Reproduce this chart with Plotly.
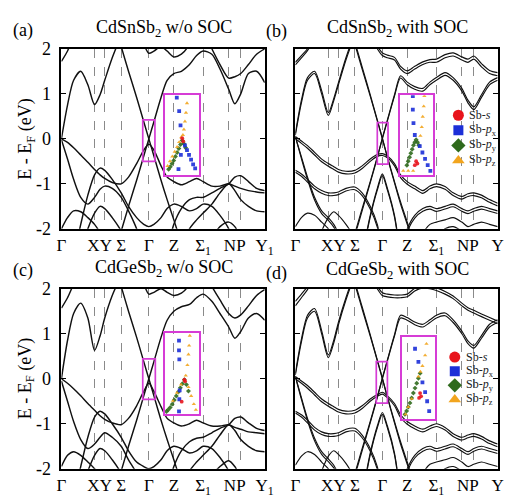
import plotly.graph_objects as go

N = None
W, H = 513, 498
SERIF = "Times New Roman, Liberation Serif, serif"
MAGENTA = "#d63cd6"

# k-path sampling (fraction of the path length)
K = [0.0, 0.03, 0.06, 0.095, 0.13, 0.163, 0.19, 0.213, 0.25, 0.294,
     0.33, 0.37, 0.405, 0.43, 0.455, 0.49, 0.52, 0.553, 0.59, 0.63,
     0.665, 0.697, 0.74, 0.78, 0.823, 0.853, 0.882, 0.92, 0.96, 1.0]

# high-symmetry points (dashed separators) and the labels printed under them
K_NODES = [0.0, 0.163, 0.213, 0.294, 0.43, 0.553, 0.697, 0.823, 0.882, 1.0]
LABEL_POS = [0.0, 0.188, 0.294, 0.43, 0.553, 0.697, 0.8525, 1.0]
LABELS_NOSOC = ["Γ", "XY", "Σ", "Γ", "Z", "Σ<sub>1</sub>", "NP", "Y<sub>1</sub>"]
LABELS_SOC = ["Γ", "XY", "Σ", "Γ", "Z", "Σ<sub>1</sub>", "NP", "Y"]
Y_TICKS = [-2, -1, 0, 1, 2]
Y_TICKTEXT = ["-2", "-1", "0", "1", "2"]

# ---- band energies (eV) on the K grid ----
BANDS_A = [
    [0.0, 0.75, 1.3, 1.5, 1.2, 0.76, 0.98, 1.3, 1.8, 2.3, 2.7] + [N] * 19,
    [1.72, 1.95, 2.3, 2.7] + [N] * 26,
    [N] * 8 + [2.7, 2.05, 1.5, 0.92, 0.38, 0.0, -0.38, -0.92, -1.35, -1.8, -2.3, -2.7] + [N] * 10,
    [N] * 8 + [-2.7, -2.05, -1.5, -0.92, -0.38, 0.0, 0.38, 0.92, 1.3, 1.45, 1.5, 1.65, 1.85, 1.95,
               1.88, 1.55, 1.1, 0.78, 1.0, 1.45, 1.5, 1.25],
    [N] * 10 + [2.7, 2.4, 2.1, 1.9, 1.95, 2.05, 1.95, 1.82, 1.88, 2.1, 2.5] + [N] * 9,
    [N] * 20 + [2.7, 2.4, 2.0, 1.65, 1.35, 1.38, 1.45, 1.65, 1.88, 2.0],
    [0.0, -0.08, -0.2, -0.36, -0.52, -0.68, -0.8, -0.88, -0.97, -1.0, -0.85, -0.55, -0.25, -0.12,
     -0.25, -0.6, -0.85, -0.95, -1.02, -0.95, -0.88, -0.95, -1.05, -1.05, -1.0, -1.05, -1.1, -1.15,
     -1.18, -1.2],
    [-0.02, -0.45, -0.9, -1.3, -1.45, -1.3, -1.12, -1.05, -1.1, -1.3, -1.6, -2.0, -2.5] + [N] * 17,
    [N] * 2 + [-2.6, -1.9, -1.25, -0.8, -0.65, -0.7, -0.9, -1.2, -1.5, -1.75, -1.9, -1.95, -1.9,
               -1.75, -1.55, -1.45, -1.5, -1.6, -1.55, -1.45, -1.5, -1.7, -2.0, -2.4] + [N] * 4,
    [-2.0, -1.75, -1.6, -1.62, -1.75, -1.9, -2.1, -2.5] + [N] * 22,
    [N] * 3 + [-2.5, -2.0, -1.65, -1.5, -1.55, -1.75, -2.05, -2.5] + [N] * 19,
    [N] * 16 + [-2.5, -1.9, -1.55, -1.35, -1.3, -1.3, -1.2, -1.1, -1.0, -0.85, -0.82, -0.95, -1.1, -1.15],
    [N] * 18 + [-2.5, -2.0, -1.8, -1.65, -1.45, -1.2, -1.0, -1.15, -1.35, -1.5, -1.6, -1.62],
    [N] * 21 + [-2.5, -2.2, -1.95, -1.85, -1.95, -2.2, -2.5] + [N] * 2,
]

BANDS_B = [
    [0.08, 0.8, 1.3, 1.45, 1.0, 0.52, 0.85, 1.2, 1.75, 2.3, 2.7] + [N] * 19,
    [0.12, 0.86, 1.36, 1.5, 1.07, 0.58, 0.9, 1.25, 1.8, 2.35, 2.7] + [N] * 19,
    [1.7, 1.85, 2.0, 2.3, 2.7] + [N] * 25,
    [1.64, 1.8, 1.96, 2.25, 2.7] + [N] * 25,
    [N] * 8 + [2.7, 2.1, 1.55, 0.95, 0.4, 0.0, -0.4, -0.95, -1.4, -1.85, -2.35, -2.7] + [N] * 10,
    [N] * 8 + [2.75, 2.15, 1.6, 0.98, 0.42, 0.02, -0.42, -0.98, -1.45, -1.9, -2.4, -2.75] + [N] * 10,
    [N] * 8 + [-2.7, -2.1, -1.55, -0.95, -0.4, 0.0, 0.4, 0.95, 1.35, 1.2, 1.1, 1.06, 1.2, 1.3,
               1.41, 1.3, 1.06, 0.8, 0.65, 0.92, 1.2, 1.3],
    [N] * 8 + [-2.75, -2.15, -1.6, -0.98, -0.42, 0.02, 0.42, 0.98, 1.4, 1.26, 1.16, 1.12, 1.26, 1.36,
               1.47, 1.36, 1.12, 0.86, 0.71, 0.98, 1.26, 1.36],
    [N] * 10 + [2.7, 2.3, 2.0, 1.85, 1.8, 1.75, 1.55, 1.45, 1.55, 1.65, 1.7, 1.7, 1.8, 1.84, 1.75,
                1.7, 1.77, 1.6, 1.45, 1.4],
    [N] * 10 + [2.75, 2.36, 2.06, 1.91, 1.86, 1.81, 1.61, 1.51, 1.61, 1.71, 1.76, 1.77, 1.87, 1.91,
                1.82, 1.77, 1.84, 1.67, 1.52, 1.47],
    [0.05, -0.05, -0.15, -0.3, -0.45, -0.55, -0.62, -0.68, -0.72, -0.7, -0.6, -0.45, -0.35, -0.33,
     -0.38, -0.55, -0.8, -0.95, -1.05, -1.15, -1.05, -1.0, -1.06, -1.2, -1.28, -1.22, -1.2, -1.25,
     -1.35, -1.43],
    [0.0, -0.1, -0.21, -0.36, -0.51, -0.61, -0.68, -0.74, -0.78, -0.76, -0.66, -0.5, -0.39, -0.37,
     -0.42, -0.6, -0.86, -1.01, -1.11, -1.21, -1.11, -1.06, -1.12, -1.26, -1.34, -1.28, -1.26,
     -1.31, -1.41, -1.49],
    [N] * 10 + [-2.6, -1.7, -1.1, -0.78, -1.1, -1.7, -2.6] + [N] * 13,
    [N] * 10 + [-2.65, -1.74, -1.14, -0.82, -1.14, -1.74, -2.65] + [N] * 13,
    [-0.7, -0.78, -0.9, -1.05, -1.15, -1.2, -1.2, -1.18, -1.1, -1.07, -1.2, -1.5, -1.9, -2.5] + [N] * 16,
    [-0.74, -0.83, -0.96, -1.11, -1.21, -1.26, -1.26, -1.24, -1.16, -1.13, -1.26, -1.56, -1.96,
     -2.56] + [N] * 16,
    [0.05, -0.4, -0.85, -1.3, -1.6, -1.75, -1.9, -2.1, -2.5] + [N] * 21,
    [0.05, -0.44, -0.9, -1.36, -1.66, -1.81, -1.96, -2.16, -2.56] + [N] * 21,
    [-1.95, -1.75, -1.65, -1.7, -1.85, -2.0, -2.2, -2.5] + [N] * 22,
    [N] * 3 + [-2.5, -2.05, -1.75, -1.62, -1.7, -1.9, -2.2, -2.5] + [N] * 19,
    [N] * 16 + [-2.5, -2.0, -1.7, -1.55, -1.5, -1.55, -1.5, -1.45, -1.55, -1.6, -1.55, -1.5, -1.55, -1.6],
    [N] * 16 + [-2.56, -2.06, -1.76, -1.61, -1.56, -1.61, -1.56, -1.51, -1.61, -1.66, -1.61, -1.56,
                -1.61, -1.66],
    [N] * 18 + [-2.5, -2.1, -1.9, -1.85, -1.8, -1.75, -1.85, -1.95, -1.9, -1.85, -1.9, -1.95],
    [N] * 20 + [-2.5, -2.2, -2.0, -1.95, -2.05, -2.15, -2.2, -2.3, -2.5, N],
]

BANDS_C = [
    [0.0, 0.85, 1.45, 1.68, 1.35, 0.63, 0.95, 1.35, 1.85, 2.3, 2.7] + [N] * 19,
    [1.57, 1.8, 2.1, 2.4, 2.7] + [N] * 25,
    [N] * 8 + [2.7, 2.05, 1.5, 0.92, 0.38, 0.0, -0.38, -0.92, -1.35, -1.8, -2.3, -2.7] + [N] * 10,
    [N] * 8 + [-2.7, -2.05, -1.5, -0.92, -0.38, 0.0, 0.38, 0.92, 1.3, 1.5, 1.6, 1.65, 1.8, 1.88,
               1.72, 1.45, 1.15, 0.9, 1.05, 1.35, 1.45, 1.3],
    [N] * 10 + [2.7, 2.4, 2.1, 1.88, 1.92, 2.0, 1.92, 1.85, 1.9, 2.1, 2.5] + [N] * 9,
    [N] * 20 + [2.7, 2.4, 2.05, 1.75, 1.45, 1.35, 1.42, 1.62, 1.85, 1.98],
    [0.0, -0.1, -0.22, -0.38, -0.55, -0.7, -0.82, -0.9, -0.98, -1.02, -0.88, -0.6, -0.28, -0.1,
     -0.28, -0.62, -0.88, -0.98, -1.05, -1.0, -0.92, -0.98, -1.05, -1.05, -1.02, -1.08, -1.12,
     -1.18, -1.2, -1.22],
    [-0.05, -0.5, -0.95, -1.35, -1.55, -1.45, -1.3, -1.2, -1.3, -1.5, -1.8, -2.1, -2.5] + [N] * 17,
    [N] * 2 + [-2.6, -1.95, -1.3, -0.85, -0.72, -0.78, -1.0, -1.3, -1.6, -1.85, -1.95, -2.0, -1.95,
               -1.8, -1.6, -1.5, -1.55, -1.65, -1.6, -1.5, -1.55, -1.75, -2.05, -2.4] + [N] * 4,
    [-1.95, -1.7, -1.62, -1.7, -1.85, -2.0, -2.2, -2.5] + [N] * 22,
    [N] * 3 + [-2.5, -2.05, -1.7, -1.55, -1.6, -1.8, -2.1, -2.5] + [N] * 19,
    [N] * 16 + [-2.5, -1.95, -1.6, -1.4, -1.32, -1.3, -1.2, -1.1, -1.02, -0.88, -0.85, -0.98, -1.1, -1.15],
    [N] * 18 + [-2.5, -2.05, -1.85, -1.7, -1.5, -1.25, -1.02, -1.15, -1.35, -1.5, -1.6, -1.62],
    [N] * 21 + [-2.5, -2.15, -1.95, -1.82, -1.95, -2.2, -2.5] + [N] * 2,
]

BANDS_D = [
    [0.08, 0.82, 1.35, 1.5, 1.0, 0.47, 0.8, 1.2, 1.75, 2.3, 2.7] + [N] * 19,
    [0.12, 0.88, 1.41, 1.56, 1.07, 0.53, 0.86, 1.26, 1.8, 2.35, 2.7] + [N] * 19,
    [1.72, 1.88, 2.05, 2.35, 2.7] + [N] * 25,
    [1.62, 1.8, 1.98, 2.3, 2.7] + [N] * 25,
    [N] * 8 + [2.7, 2.1, 1.55, 0.95, 0.4, 0.0, -0.4, -0.95, -1.4, -1.85, -2.35, -2.7] + [N] * 10,
    [N] * 8 + [2.75, 2.15, 1.6, 0.98, 0.42, 0.02, -0.42, -0.98, -1.45, -1.9, -2.4, -2.75] + [N] * 10,
    [N] * 8 + [-2.7, -2.1, -1.55, -0.95, -0.4, 0.0, 0.4, 0.95, 1.35, 1.3, 1.2, 1.15, 1.25, 1.35,
               1.4, 1.25, 1.0, 0.78, 0.68, 0.9, 1.15, 1.25],
    [N] * 8 + [-2.75, -2.15, -1.6, -0.98, -0.42, 0.02, 0.42, 0.98, 1.41, 1.36, 1.26, 1.21, 1.31, 1.41,
               1.46, 1.31, 1.06, 0.84, 0.74, 0.96, 1.21, 1.31],
    [N] * 10 + [2.7, 2.3, 2.0, 1.85, 1.82, 1.8, 1.8, 1.82, 1.95, 2.02, 2.0, 1.96, 1.88, 1.78, 1.62,
                1.52, 1.46, 1.38, 1.3, 1.22],
    [N] * 10 + [2.75, 2.36, 2.06, 1.91, 1.88, 1.86, 1.86, 1.88, 2.01, 2.08, 2.06, 2.02, 1.94, 1.84,
                1.68, 1.58, 1.52, 1.44, 1.36, 1.28],
    [0.05, -0.05, -0.15, -0.3, -0.45, -0.55, -0.62, -0.68, -0.72, -0.7, -0.6, -0.45, -0.35, -0.3,
     -0.38, -0.55, -0.8, -0.95, -1.05, -1.12, -1.05, -1.0, -1.08, -1.22, -1.3, -1.25, -1.22, -1.28,
     -1.38, -1.45],
    [0.0, -0.1, -0.21, -0.36, -0.51, -0.61, -0.68, -0.74, -0.78, -0.76, -0.66, -0.5, -0.39, -0.34,
     -0.42, -0.6, -0.86, -1.01, -1.11, -1.18, -1.11, -1.06, -1.14, -1.28, -1.36, -1.31, -1.28,
     -1.34, -1.44, -1.51],
    [N] * 10 + [-2.6, -1.65, -1.05, -0.75, -1.05, -1.65, -2.6] + [N] * 13,
    [N] * 10 + [-2.65, -1.69, -1.09, -0.79, -1.09, -1.69, -2.65] + [N] * 13,
    [-0.72, -0.8, -0.92, -1.08, -1.18, -1.22, -1.22, -1.2, -1.12, -1.1, -1.25, -1.55, -1.95, -2.5] + [N] * 16,
    [-0.76, -0.85, -0.98, -1.14, -1.24, -1.28, -1.28, -1.26, -1.18, -1.16, -1.31, -1.61, -2.01,
     -2.56] + [N] * 16,
    [0.05, -0.42, -0.88, -1.32, -1.62, -1.78, -1.92, -2.12, -2.5] + [N] * 21,
    [0.05, -0.46, -0.93, -1.38, -1.68, -1.84, -1.98, -2.18, -2.56] + [N] * 21,
    [-1.92, -1.72, -1.62, -1.68, -1.85, -2.0, -2.2, -2.5] + [N] * 22,
    [N] * 3 + [-2.5, -2.05, -1.72, -1.6, -1.68, -1.88, -2.2, -2.5] + [N] * 19,
    [N] * 16 + [-2.5, -2.0, -1.7, -1.55, -1.5, -1.55, -1.5, -1.45, -1.55, -1.62, -1.55, -1.5, -1.55, -1.6],
    [N] * 16 + [-2.56, -2.06, -1.76, -1.61, -1.56, -1.61, -1.56, -1.51, -1.61, -1.68, -1.61, -1.56,
                -1.61, -1.66],
    [N] * 18 + [-2.5, -2.1, -1.9, -1.85, -1.8, -1.75, -1.85, -1.95, -1.9, -1.85, -1.9, -1.95],
    [N] * 20 + [-2.5, -2.2, -2.0, -1.95, -2.05, -2.15, -2.2, -2.3, -2.5, N],
]

# ---- orbital projections shown in the zoomed insets (inset-normalised coordinates) ----
ORBITALS = ["Sb-<i>s</i>", "Sb-<i>p</i><sub>x</sub>", "Sb-<i>p</i><sub>y</sub>", "Sb-<i>p</i><sub>z</sub>"]
ORB_KEYS = ["s", "px", "py", "pz"]
ORB_COLORS = ["#e8141c", "#1c2fd8", "#2f6a1c", "#f2a51e"]
ORB_SYMBOLS = ["circle", "square", "diamond", "triangle-up"]
ORB_LEGEND_SIZES = [11, 10, 11, 11]

INSET_A = {
    "s": ([0.52, 0.55], [0.46, 0.42]),
    "px": ([0.36, 0.43, 0.47, 0.48, 0.41, 0.60, 0.66, 0.72, 0.78, 0.84, 0.90],
           [0.97, 0.80, 0.62, 0.25, 0.07, 0.37, 0.31, 0.25, 0.19, 0.13, 0.08]),
    "py": ([0.52, 0.47, 0.42, 0.37, 0.32, 0.27, 0.22, 0.17, 0.12, 0.57, 0.62],
           [0.43, 0.38, 0.33, 0.28, 0.23, 0.18, 0.14, 0.10, 0.07, 0.39, 0.34]),
    "pz": ([0.66, 0.63, 0.60, 0.57, 0.54, 0.49, 0.43, 0.37, 0.30, 0.23, 0.16, 0.09],
           [0.90, 0.78, 0.67, 0.57, 0.50, 0.47, 0.41, 0.35, 0.29, 0.23, 0.17, 0.11]),
}
INSET_B = {
    "s": ([0.49, 0.53, 0.45], [0.17, 0.14, 0.12]),
    "px": ([0.39, 0.39, 0.41, 0.45, 0.60, 0.68, 0.76, 0.84, 0.92],
           [0.99, 0.82, 0.65, 0.50, 0.36, 0.28, 0.20, 0.12, 0.05]),
    "py": ([0.49, 0.45, 0.53, 0.41, 0.57, 0.37, 0.33, 0.29, 0.25, 0.21],
           [0.44, 0.41, 0.41, 0.37, 0.37, 0.32, 0.27, 0.22, 0.17, 0.12]),
    "pz": ([0.74, 0.72, 0.69, 0.66, 0.62, 0.10, 0.25, 0.40],
           [0.99, 0.86, 0.73, 0.60, 0.49, 0.05, 0.05, 0.05]),
}
INSET_C = {
    "s": ([0.58, 0.60, 0.50], [0.42, 0.40, 0.15]),
    "px": ([0.42, 0.42, 0.43, 0.44, 0.43, 0.42], [0.90, 0.78, 0.67, 0.29, 0.18, 0.03]),
    "py": ([0.58, 0.52, 0.46, 0.40, 0.34, 0.28, 0.22, 0.16, 0.10, 0.05, 0.64, 0.70],
           [0.42, 0.37, 0.32, 0.27, 0.22, 0.17, 0.12, 0.08, 0.05, 0.03, 0.36, 0.28]),
    "pz": ([0.74, 0.72, 0.70, 0.67, 0.62, 0.70, 0.78, 0.86, 0.92, 0.48, 0.36, 0.24],
           [0.96, 0.84, 0.73, 0.60, 0.47, 0.33, 0.22, 0.12, 0.05, 0.36, 0.26, 0.16]),
}
INSET_D = {
    "s": ([0.55, 0.58, 0.52], [0.32, 0.28, 0.26]),
    "px": ([0.40, 0.50, 0.62, 0.70, 0.76, 0.82], [0.86, 0.70, 0.45, 0.33, 0.22, 0.10]),
    "py": ([0.55, 0.50, 0.45, 0.40, 0.35, 0.30, 0.25, 0.20, 0.15, 0.10],
           [0.56, 0.50, 0.44, 0.38, 0.32, 0.26, 0.20, 0.15, 0.10, 0.06]),
    "pz": ([0.74, 0.70, 0.62, 0.56, 0.50, 0.30, 0.20, 0.12],
           [0.92, 0.78, 0.65, 0.58, 0.52, 0.25, 0.15, 0.06]),
}

TITLES = ["CdSnSb<sub>2</sub> w/o SOC", "CdSnSb<sub>2</sub> with SOC",
          "CdGeSb<sub>2</sub> w/o SOC", "CdGeSb<sub>2</sub> with SOC"]
TAGS = ["(a)", "(b)", "(c)", "(d)"]
Y_TITLE = "E - E<sub>F</sub> (eV)"

PANEL_BANDS = [BANDS_A, BANDS_B, BANDS_C, BANDS_D]
PANEL_INSETS = [INSET_A, INSET_B, INSET_C, INSET_D]
PANEL_LABELS = [LABELS_NOSOC, LABELS_SOC, LABELS_NOSOC, LABELS_SOC]
PANEL_SOC = [False, True, False, True]

# ---- geometry (pixels: left, top, right, bottom) ----
PANEL_PX = [(58, 40.5, 267, 228.5), (298.5, 40.5, 506.5, 228.5),
            (58, 291, 267, 479), (298.5, 291, 506.5, 479)]
INSET_PX = [(164, 89, 199, 172), (406, 89, 440, 172),
            (164.3, 336.7, 199, 421.7), (407.7, 341.7, 442.3, 427.3)]
GAMMA_BOX = [(0.40, 0.46, -0.50, 0.42), (0.405, 0.458, -0.56, 0.36),
             (0.40, 0.462, -0.46, 0.44), (0.40, 0.455, -0.54, 0.38)]
LEGEND_PX = {1: (458, 102, 512, 165), 3: (454, 355, 510, 414)}
TITLE_POS = [(163, 19), (404, 19), (163, 270), (404, 272)]
TAG_POS = [(18, 21), (279, 22), (19, 272), (279, 275)]
YTITLE_POS = [(22, 135), (22, 385)]


def dom_x(l, r):
    return [l / W, r / W]


def dom_y(t, b):
    return [1 - b / H, 1 - t / H]


def ax_names(n):
    s = "" if n == 1 else str(n)
    return "xaxis" + s, "yaxis" + s, "x" + s, "y" + s


fig = go.Figure()
layout = {}
annotations = []
shapes = []

for i in range(4):
    n = i + 1
    xa, ya, xr, yr = ax_names(n)
    l, t, r, b = PANEL_PX[i]
    layout[xa] = dict(domain=dom_x(l, r), range=[0, 1], anchor=yr,
                      tickmode="array", tickvals=LABEL_POS, ticktext=PANEL_LABELS[i],
                      tickangle=0, ticks="", showgrid=False,
                      minor=dict(tickmode="array", tickvals=K_NODES, showgrid=True,
                                 gridcolor="#8a8a8a", griddash="dash", gridwidth=0.9,
                                 ticks=""),
                      showline=True, linecolor="black",
                      linewidth=1.8, mirror=True, zeroline=False,
                      tickfont=dict(family=SERIF, size=17, color="black"))
    layout[ya] = dict(domain=dom_y(t, b), range=[-2, 2], anchor=xr,
                      tickmode="array", tickvals=Y_TICKS, ticktext=Y_TICKTEXT,
                      ticks="inside", ticklen=5, tickwidth=1.2, tickcolor="black",
                      mirror="ticks", showline=True, linecolor="black", linewidth=1.8,
                      showgrid=False, zeroline=False, showticklabels=(i % 2 == 0),
                      ticklabelstandoff=5,
                      tickfont=dict(family=SERIF, size=18, color="black"))

    lw = 1.15 if PANEL_SOC[i] else 1.45
    for band in PANEL_BANDS[i]:
        fig.add_trace(go.Scatter(
            x=K, y=band, mode="lines", xaxis=xr, yaxis=yr,
            line=dict(color="#111", width=lw, shape="spline", smoothing=0.8),
            connectgaps=False, showlegend=False, hoverinfo="skip"))

    x0, x1, y0, y1 = GAMMA_BOX[i]
    shapes.append(dict(type="rect", xref=xr, yref=yr, x0=x0, x1=x1, y0=y0, y1=y1,
                       line=dict(color=MAGENTA, width=1.7)))

    # zoomed inset with orbital projections
    m = i + 5
    ixa, iya, ixr, iyr = ax_names(m)
    il, it, ir, ib = INSET_PX[i]
    layout[ixa] = dict(domain=dom_x(il, ir), range=[0, 1], anchor=iyr, showline=True,
                       mirror=True, linecolor=MAGENTA, linewidth=1.9, ticks="",
                       showticklabels=False, showgrid=False, zeroline=False)
    layout[iya] = dict(domain=dom_y(it, ib), range=[0, 1], anchor=ixr, showline=True,
                       mirror=True, linecolor=MAGENTA, linewidth=1.9, ticks="",
                       showticklabels=False, showgrid=False, zeroline=False)
    for j in [2, 3, 1, 0]:
        xs, ys = PANEL_INSETS[i][ORB_KEYS[j]]
        fig.add_trace(go.Scatter(
            x=xs, y=ys, mode="markers", xaxis=ixr, yaxis=iyr,
            marker=dict(symbol=ORB_SYMBOLS[j], color=ORB_COLORS[j], size=3.8,
                        opacity=0.9, line=dict(width=0)),
            showlegend=False, hoverinfo="skip"))

    tx, ty = TITLE_POS[i]
    annotations.append(dict(text=TITLES[i], x=tx / W, y=1 - ty / H, xref="paper", yref="paper",
                            showarrow=False, xanchor="center", yanchor="middle",
                            font=dict(family=SERIF, size=18, color="black")))
    gx, gy = TAG_POS[i]
    annotations.append(dict(text=TAGS[i], x=gx / W, y=1 - gy / H, xref="paper", yref="paper",
                            showarrow=False, xanchor="center", yanchor="middle",
                            font=dict(family=SERIF, size=18, color="black")))

for (yx, yy) in YTITLE_POS:
    annotations.append(dict(text=Y_TITLE, x=yx / W, y=1 - yy / H, xref="paper", yref="paper",
                            showarrow=False, textangle=-90, xanchor="center", yanchor="middle",
                            font=dict(family=SERIF, size=18, color="black")))

# orbital keys next to the SOC insets
for idx, (panel, box) in enumerate(LEGEND_PX.items()):
    m = 9 + idx
    lxa, lya, lxr, lyr = ax_names(m)
    l, t, r, b = box
    layout[lxa] = dict(domain=dom_x(l, r), range=[0, 1], anchor=lyr, visible=False)
    layout[lya] = dict(domain=dom_y(t, b), range=[3.5, -0.5], anchor=lxr, visible=False)
    for j in range(4):
        fig.add_trace(go.Scatter(
            x=[0.15], y=[j], mode="markers", xaxis=lxr, yaxis=lyr,
            marker=dict(symbol=ORB_SYMBOLS[j], color=ORB_COLORS[j], size=ORB_LEGEND_SIZES[j],
                        line=dict(width=0)),
            showlegend=False, hoverinfo="skip"))
        annotations.append(dict(text=ORBITALS[j], x=0.31, y=j, xref=lxr, yref=lyr,
                                showarrow=False, xanchor="left", yanchor="middle",
                                font=dict(family=SERIF, size=12, color="#222")))

fig.update_layout(
    width=W, height=H, margin=dict(l=0, r=0, t=0, b=0),
    paper_bgcolor="white", plot_bgcolor="rgba(0,0,0,0)",
    showlegend=False, annotations=annotations, shapes=shapes,
    font=dict(family=SERIF, color="black"),
    **layout,
)

fig.write_html("out.html")
